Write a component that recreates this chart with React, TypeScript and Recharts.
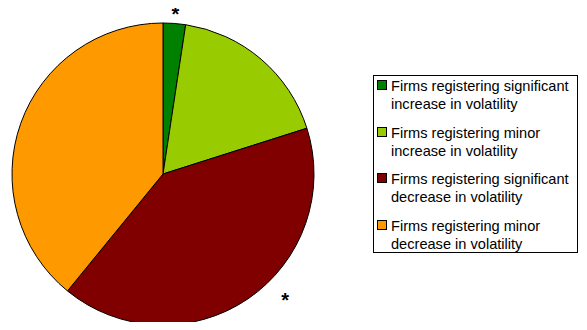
import { PieChart, Pie, Cell, Legend } from 'recharts'

const categories = [
    'Firms registering significant increase in volatility',
    'Firms registering minor increase in volatility',
    'Firms registering significant decrease in volatility',
    'Firms registering minor decrease in volatility',
]
const lineOne = [
    'Firms registering significant',
    'Firms registering minor',
    'Firms registering significant',
    'Firms registering minor',
]
const lineTwo = [
    'increase in volatility',
    'increase in volatility',
    'decrease in volatility',
    'decrease in volatility',
]
const shares = [2.4, 17.7, 40.8, 39.1]
const marks = ['*', '', '*', '']
const colors = ['#008000', '#99CC00', '#800000', '#FF9900']

const data = categories.map((name, i) => ({ name, value: shares[i] }))

const RADIAN = Math.PI / 180

// asterisk labels just outside the significant slices
const renderStar = (props: any) => {
    const { cx, cy, outerRadius, midAngle, index } = props
    if (!marks[index]) return null
    const angle = index === 2 ? midAngle + 11 : midAngle
    const r = outerRadius + (index === 2 ? 21 : 14)
    const x = cx + r * Math.cos(-angle * RADIAN)
    const y = cy + r * Math.sin(-angle * RADIAN)
    return (
        <text
            x={x}
            y={y + 5}
            textAnchor="middle"
            dominantBaseline="central"
            fontSize={20}
            fontWeight="bold"
            fontFamily="Liberation Sans, Arial, sans-serif"
            fill="#000"
        >
            {marks[index]}
        </text>
    )
}

const LegendBox = () => (
    <div
        style={{
            width: 205,
            height: 178,
            border: '1px solid #000',
            boxSizing: 'border-box',
            padding: '1px 0 0 3px',
            fontFamily: 'Liberation Sans, Arial, sans-serif',
            fontSize: 14.6,
            lineHeight: '18px',
            color: '#000',
            background: '#fff',
            overflow: 'hidden',
        }}
    >
        {categories.map((c, i) => (
            <div key={c} style={{ display: 'flex', marginBottom: 10.7 }}>
                <div
                    style={{
                        width: 10,
                        height: 10,
                        marginTop: 3,
                        marginRight: 4,
                        flexShrink: 0,
                        background: colors[i],
                        border: '1px solid #000',
                        boxSizing: 'border-box',
                    }}
                />
                <div style={{ whiteSpace: 'nowrap' }}>
                    {lineOne[i]}
                    <br />
                    {lineTwo[i]}
                </div>
            </div>
        ))}
    </div>
)

export default function App() {
    return (
        <div style={{ width: 587, height: 330, margin: -8, background: '#fff' }}>
            <PieChart width={587} height={330} margin={{ top: 0, right: 0, bottom: 0, left: 0 }}>
                <Pie
                    data={data}
                    dataKey="value"
                    nameKey="name"
                    cx={163}
                    cy={174}
                    outerRadius={151}
                    startAngle={90}
                    endAngle={-270}
                    stroke="#000"
                    strokeWidth={1}
                    label={renderStar}
                    labelLine={false}
                    isAnimationActive={false}
                >
                    {data.map((d, i) => (
                        <Cell key={d.name} fill={colors[i]} />
                    ))}
                </Pie>
                <Legend
                    content={<LegendBox />}
                    wrapperStyle={{ left: 373, top: 75, width: 205, position: 'absolute' }}
                />
            </PieChart>
        </div>
    )
}
